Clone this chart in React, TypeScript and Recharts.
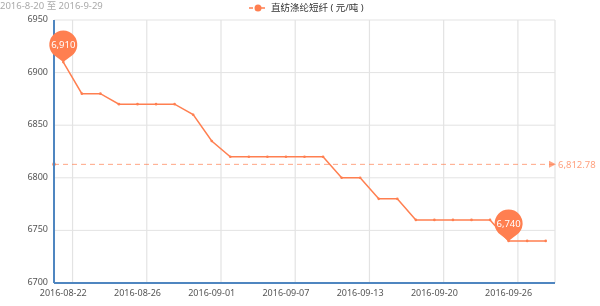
import React from "react";
import { LineChart, Line, XAxis, YAxis, CartesianGrid, ReferenceLine, ReferenceDot } from "recharts";

// trading days shown on the category axis
const DATES = [
    "2016-08-22", "2016-08-23", "2016-08-24", "2016-08-25", "2016-08-26",
    "2016-08-29", "2016-08-30", "2016-08-31", "2016-09-01", "2016-09-02",
    "2016-09-05", "2016-09-06", "2016-09-07", "2016-09-08", "2016-09-09",
    "2016-09-12", "2016-09-13", "2016-09-14", "2016-09-18", "2016-09-19",
    "2016-09-20", "2016-09-21", "2016-09-22", "2016-09-23", "2016-09-26",
    "2016-09-27", "2016-09-28",
];
const PRICES = [
    6910, 6880, 6880, 6870, 6870, 6870, 6870, 6860, 6835, 6820,
    6820, 6820, 6820, 6820, 6820, 6800, 6800, 6780, 6780, 6760,
    6760, 6760, 6760, 6760, 6740, 6740, 6740,
];
const LABEL_TICKS = [0, 4, 8, 12, 16, 20, 24];
const SPLIT_LINES = [0.5, 4.5, 8.5, 12.5, 16.5, 20.5, 24.5, 26.5];
const Y_TICKS = [6700, 6750, 6800, 6850, 6900, 6950];

const SERIES_NAME = "直纺涤纶短纤 ( 元/吨 )";
const RANGE_TEXT = "2016-8-20 至 2016-9-29";

const CORAL = "#ff7f50";
const AXIS_BLUE = "#4f86c0";
const FONT = "'Noto Sans', 'Noto Sans CJK SC', sans-serif";

const data = PRICES.map((v, i) => ({ i, v }));
const avg = PRICES.reduce((a, b) => a + b, 0) / PRICES.length;
const maxV = Math.max(...PRICES);
const minV = Math.min(...PRICES);
const maxIdx = PRICES.indexOf(maxV);
const minIdx = PRICES.indexOf(minV);

const fmt = (n: number, d = 0) =>
    n.toLocaleString("en-US", { minimumFractionDigits: d, maximumFractionDigits: d });

// ECharts style "pin" marker, tip sits on the data point
function Pin(props: any) {
    const { cx, cy, value } = props;
    const r = 14;
    const d = 17.5;
    const phi = Math.acos(r / d);
    const tx = r * Math.sin(phi);
    const ty = d - r * Math.cos(phi);
    const path = `M${cx},${cy} L${cx - tx},${cy - ty} A${r},${r} 0 1 1 ${cx + tx},${cy - ty} Z`;
    return (
        <g>
            <path d={path} fill={CORAL} />
            <text x={cx} y={cy - d} dy={3.5} textAnchor="middle" fill="#fff" fontSize={9.5} fontFamily={FONT}>
                {fmt(value)}
            </text>
        </g>
    );
}

function AvgLabel(props: any) {
    const { viewBox } = props;
    if (!viewBox) return null;
    const { x, y, width } = viewBox;
    const ex = x + width;
    return (
        <g>
            <circle cx={x} cy={y} r={2} fill={CORAL} fillOpacity={0.7} />
            <path d={`M${ex - 6},${y - 3.5} L${ex + 1},${y} L${ex - 6},${y + 3.5} Z`} fill={CORAL} fillOpacity={0.7} />
            <text x={ex + 3} y={y} dy={3.5} fill={CORAL} fillOpacity={0.75} fontSize={9.5} fontFamily={FONT}>
                {fmt(avg, 2)}
            </text>
        </g>
    );
}

function YTick(props: any) {
    const { x, y, payload } = props;
    return (
        <text x={x} y={y - 1} dy={3} textAnchor="end" fill="#555" fontSize={9} fontFamily={FONT}>
            {payload.value}
        </text>
    );
}

export default function App() {
    return (
        <div style={{ position: "fixed", left: 0, top: 0, width: 600, height: 306, background: "#fff", fontFamily: FONT }}>
            <div style={{ position: "absolute", left: 0, top: 0, fontSize: 9.5, lineHeight: "12px", color: "#aaa", whiteSpace: "nowrap" }}>
                {RANGE_TEXT}
            </div>
            <div style={{ position: "absolute", left: 249, top: 1, fontSize: 9.5, lineHeight: "14px", color: "#333", display: "flex", alignItems: "center", whiteSpace: "nowrap" }}>
                <svg width={18} height={10} style={{ marginRight: 4 }}>
                    <line x1={0} y1={5} x2={18} y2={5} stroke={CORAL} strokeWidth={1.5} strokeDasharray="4 2" />
                    <circle cx={9} cy={5} r={3.5} fill={CORAL} />
                </svg>
                {SERIES_NAME}
            </div>
            <LineChart width={600} height={306} data={data} margin={{ top: 20, right: 45, left: 0, bottom: 0 }}>
                <CartesianGrid vertical={false} stroke="#e3e3e3" />
                {SPLIT_LINES.map((b) => (
                    <ReferenceLine key={b} x={b} stroke="#e3e3e3" strokeWidth={1.2} ifOverflow="visible" />
                ))}
                <XAxis
                    dataKey="i"
                    type="number"
                    domain={[-0.5, DATES.length - 0.5]}
                    ticks={LABEL_TICKS}
                    tickFormatter={(i: number) => DATES[i]}
                    interval={0}
                    height={23}
                    tickLine={false}
                    tickSize={0}
                    tickMargin={7}
                    axisLine={{ stroke: AXIS_BLUE, strokeWidth: 2 }}
                    tick={{ fill: "#555", fontSize: 9, fontFamily: FONT }}
                />
                <YAxis
                    domain={[6700, 6950]}
                    ticks={Y_TICKS}
                    width={54}
                    tickLine={false}
                    tickSize={0}
                    tickMargin={6}
                    axisLine={{ stroke: AXIS_BLUE, strokeWidth: 2 }}
                    tick={<YTick />}
                />
                <ReferenceLine
                    y={avg}
                    stroke={CORAL}
                    strokeOpacity={0.7}
                    strokeDasharray="5 4"
                    label={<AvgLabel />}
                />
                <Line
                    dataKey="v"
                    stroke={CORAL}
                    strokeWidth={1.5}
                    dot={{ r: 1.3, fill: CORAL, stroke: "none" }}
                    activeDot={false}
                    isAnimationActive={false}
                />
                <ReferenceDot x={maxIdx} y={maxV} shape={(p: any) => <Pin {...p} value={maxV} />} />
                <ReferenceDot x={minIdx} y={minV} shape={(p: any) => <Pin {...p} value={minV} />} />
            </LineChart>
        </div>
    );
}
